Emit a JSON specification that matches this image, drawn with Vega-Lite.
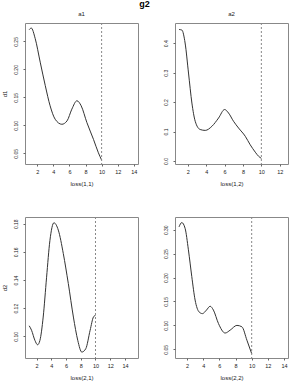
{
  "$schema": "https://vega.github.io/schema/vega-lite/v6.json",
  "padding": {"left": 0, "top": 0, "right": 4, "bottom": 4},
  "background": "white",
  "title": {"text": "g2", "fontSize": 9, "fontWeight": "bold", "font": "Liberation Sans", "anchor": "middle", "offset": 1, "color": "#000000"},
  "datasets": {
    "curves": [
      {"panel": "p1", "x": 1.0, "y": 0.271},
      {"panel": "p1", "x": 1.26, "y": 0.274},
      {"panel": "p1", "x": 1.75, "y": 0.255},
      {"panel": "p1", "x": 2.37, "y": 0.213},
      {"panel": "p1", "x": 3.0, "y": 0.171},
      {"panel": "p1", "x": 3.6, "y": 0.135},
      {"panel": "p1", "x": 4.23, "y": 0.111},
      {"panel": "p1", "x": 5.06, "y": 0.102},
      {"panel": "p1", "x": 5.7, "y": 0.108},
      {"panel": "p1", "x": 6.3, "y": 0.129},
      {"panel": "p1", "x": 6.93, "y": 0.144},
      {"panel": "p1", "x": 7.46, "y": 0.135},
      {"panel": "p1", "x": 8.17, "y": 0.105},
      {"panel": "p1", "x": 8.99, "y": 0.075},
      {"panel": "p1", "x": 9.6, "y": 0.051},
      {"panel": "p1", "x": 10.0, "y": 0.038},
      {"panel": "p2", "x": 1.05, "y": 0.447},
      {"panel": "p2", "x": 1.35, "y": 0.445},
      {"panel": "p2", "x": 1.7, "y": 0.401},
      {"panel": "p2", "x": 2.07, "y": 0.299},
      {"panel": "p2", "x": 2.44, "y": 0.197},
      {"panel": "p2", "x": 2.8, "y": 0.135},
      {"panel": "p2", "x": 3.34, "y": 0.107},
      {"panel": "p2", "x": 3.89, "y": 0.104},
      {"panel": "p2", "x": 4.62, "y": 0.118},
      {"panel": "p2", "x": 5.34, "y": 0.146},
      {"panel": "p2", "x": 6.0, "y": 0.175},
      {"panel": "p2", "x": 6.43, "y": 0.163},
      {"panel": "p2", "x": 6.97, "y": 0.135},
      {"panel": "p2", "x": 7.52, "y": 0.112},
      {"panel": "p2", "x": 8.25, "y": 0.084},
      {"panel": "p2", "x": 8.79, "y": 0.055},
      {"panel": "p2", "x": 9.34, "y": 0.03},
      {"panel": "p2", "x": 9.7, "y": 0.016},
      {"panel": "p2", "x": 10.0, "y": 0.009},
      {"panel": "p3", "x": 1.0, "y": 0.1075},
      {"panel": "p3", "x": 1.32, "y": 0.1043},
      {"panel": "p3", "x": 1.77, "y": 0.0972},
      {"panel": "p3", "x": 2.14, "y": 0.094},
      {"panel": "p3", "x": 2.45, "y": 0.097},
      {"panel": "p3", "x": 2.9, "y": 0.1137},
      {"panel": "p3", "x": 3.36, "y": 0.142},
      {"panel": "p3", "x": 3.81, "y": 0.168},
      {"panel": "p3", "x": 4.36, "y": 0.1807},
      {"panel": "p3", "x": 4.95, "y": 0.1755},
      {"panel": "p3", "x": 5.63, "y": 0.1588},
      {"panel": "p3", "x": 6.31, "y": 0.1375},
      {"panel": "p3", "x": 7.0, "y": 0.1137},
      {"panel": "p3", "x": 7.59, "y": 0.0972},
      {"panel": "p3", "x": 8.14, "y": 0.0888},
      {"panel": "p3", "x": 8.68, "y": 0.0912},
      {"panel": "p3", "x": 9.27, "y": 0.1043},
      {"panel": "p3", "x": 9.72, "y": 0.1137},
      {"panel": "p3", "x": 10.0, "y": 0.115},
      {"panel": "p4", "x": 1.0, "y": 0.306},
      {"panel": "p4", "x": 1.34, "y": 0.315},
      {"panel": "p4", "x": 1.75, "y": 0.303},
      {"panel": "p4", "x": 2.16, "y": 0.258},
      {"panel": "p4", "x": 2.58, "y": 0.202},
      {"panel": "p4", "x": 2.99, "y": 0.153},
      {"panel": "p4", "x": 3.49, "y": 0.128},
      {"panel": "p4", "x": 3.9, "y": 0.1246},
      {"panel": "p4", "x": 4.4, "y": 0.132},
      {"panel": "p4", "x": 4.85, "y": 0.14},
      {"panel": "p4", "x": 5.26, "y": 0.132},
      {"panel": "p4", "x": 5.88, "y": 0.104},
      {"panel": "p4", "x": 6.71, "y": 0.084},
      {"panel": "p4", "x": 7.33, "y": 0.09},
      {"panel": "p4", "x": 8.17, "y": 0.1},
      {"panel": "p4", "x": 8.79, "y": 0.097},
      {"panel": "p4", "x": 9.41, "y": 0.069},
      {"panel": "p4", "x": 10.0, "y": 0.041}
    ]
  },
  "columns": 2,
  "spacing": {"row": 53, "column": 37},
  "bounds": "flush",
  "concat": [
    {
      "width": 113, "height": 141,
      "title": {"text": "a1"},
      "data": {"name": "curves"},
      "transform": [{"filter": "datum.panel === 'p1'"}],
      "encoding": {
        "x": {"field": "x", "type": "quantitative", "scale": {"domain": [0.48, 14.52], "nice": false, "zero": false}, "axis": {"values": [2, 4, 6, 8, 10, 12, 14], "labelOverlap": false, "title": "loss(1,1)"}}
      },
      "layer": [
        {
          "mark": {"type": "line", "interpolate": "monotone", "color": "#333333", "strokeWidth": 1},
          "encoding": {
            "y": {"field": "y", "type": "quantitative", "scale": {"domain": [0.031, 0.283], "nice": false, "zero": false}, "axis": {"values": [0.05, 0.1, 0.15, 0.2, 0.25], "labelOverlap": false, "format": ".2f", "title": "d1"}}
          }
        },
        {
          "data": {"values": [{"x": 10}]},
          "mark": {"type": "rule", "strokeDash": [2, 2], "color": "#888888", "strokeWidth": 1},
          "encoding": {}
        }
      ]
    },
    {
      "width": 113, "height": 141,
      "title": {"text": "a2"},
      "data": {"name": "curves"},
      "transform": [{"filter": "datum.panel === 'p2'"}],
      "encoding": {
        "x": {"field": "x", "type": "quantitative", "scale": {"domain": [0.6, 12.9], "nice": false, "zero": false}, "axis": {"values": [2, 4, 6, 8, 10, 12], "labelOverlap": false, "title": "loss(1,2)"}}
      },
      "layer": [
        {
          "mark": {"type": "line", "interpolate": "monotone", "color": "#333333", "strokeWidth": 1},
          "encoding": {
            "y": {"field": "y", "type": "quantitative", "scale": {"domain": [-0.0102, 0.469], "nice": false, "zero": false}, "axis": {"values": [0, 0.1, 0.2, 0.3, 0.4], "labelOverlap": false, "format": ".1f", "title": null}}
          }
        },
        {
          "data": {"values": [{"x": 10}]},
          "mark": {"type": "rule", "strokeDash": [2, 2], "color": "#888888", "strokeWidth": 1},
          "encoding": {}
        }
      ]
    },
    {
      "width": 113, "height": 141,
      "data": {"name": "curves"},
      "transform": [{"filter": "datum.panel === 'p3'"}],
      "encoding": {
        "x": {"field": "x", "type": "quantitative", "scale": {"domain": [0.43, 15.77], "nice": false, "zero": false}, "axis": {"values": [2, 4, 6, 8, 10, 12, 14], "labelOverlap": false, "title": "loss(2,1)"}}
      },
      "layer": [
        {
          "mark": {"type": "line", "interpolate": "monotone", "color": "#333333", "strokeWidth": 1},
          "encoding": {
            "y": {"field": "y", "type": "quantitative", "scale": {"domain": [0.0846, 0.1848], "nice": false, "zero": false}, "axis": {"values": [0.1, 0.12, 0.14, 0.16, 0.18], "labelOverlap": false, "format": ".2f", "title": "d2"}}
          }
        },
        {
          "data": {"values": [{"x": 10}]},
          "mark": {"type": "rule", "strokeDash": [2, 2], "color": "#888888", "strokeWidth": 1},
          "encoding": {}
        }
      ]
    },
    {
      "width": 113, "height": 141,
      "data": {"name": "curves"},
      "transform": [{"filter": "datum.panel === 'p4'"}],
      "encoding": {
        "x": {"field": "x", "type": "quantitative", "scale": {"domain": [0.5, 14.5], "nice": false, "zero": false}, "axis": {"values": [2, 4, 6, 8, 10, 12, 14], "labelOverlap": false, "title": "loss(2,2)"}}
      },
      "layer": [
        {
          "mark": {"type": "line", "interpolate": "monotone", "color": "#333333", "strokeWidth": 1},
          "encoding": {
            "y": {"field": "y", "type": "quantitative", "scale": {"domain": [0.0318, 0.3266], "nice": false, "zero": false}, "axis": {"values": [0.05, 0.1, 0.15, 0.2, 0.25, 0.3], "labelOverlap": false, "format": ".2f", "title": null}}
          }
        },
        {
          "data": {"values": [{"x": 10}]},
          "mark": {"type": "rule", "strokeDash": [2, 2], "color": "#888888", "strokeWidth": 1},
          "encoding": {}
        }
      ]
    }
  ],
  "config": {
    "font": "Liberation Sans",
    "view": {"stroke": "#888888", "strokeWidth": 1},
    "title": {"fontSize": 6, "fontWeight": "normal", "color": "#222222", "offset": 6},
    "axis": {
      "grid": false,
      "domain": false,
      "ticks": true,
      "tickSize": 2,
      "tickColor": "#666666",
      "labelFontSize": 5,
      "labelColor": "#222222",
      "labelPadding": 3,
      "titleFontSize": 6,
      "titleFontWeight": "normal",
      "titleColor": "#222222",
      "labelOverlap": false
    },
    "axisX": {"titlePadding": 6, "labelFontSize": 5.5, "tickSize": 2},
    "axisY": {"labelAngle": -90, "labelAlign": "center", "labelBaseline": "bottom", "labelPadding": 5, "titlePadding": 6}
  }
}
